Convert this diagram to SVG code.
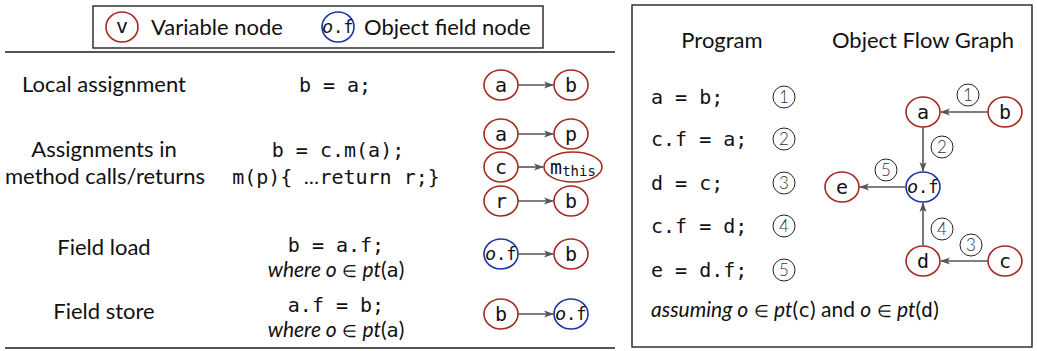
<svg xmlns="http://www.w3.org/2000/svg" width="1037" height="351" viewBox="0 0 1037 351">
<style>
.bg{fill:#fff}
.var{fill:#fff;stroke:#a52a1f;stroke-width:1.6}
.obj{fill:#fff;stroke:#1a35a8;stroke-width:1.6}
.sans{font-family:Lato,"Open Sans","Liberation Sans",sans-serif;font-size:22px;fill:#111}
.mono{font-family:"DejaVu Sans Mono","Liberation Mono",monospace;font-size:20px;fill:#111}
.nl{font-family:"DejaVu Sans Mono","Liberation Mono",monospace;font-size:20px;fill:#111;text-anchor:middle}
.of{font-size:17px}
.it{font-family:Lato,"Open Sans","Liberation Sans",sans-serif;font-style:italic}
.tt{font-family:"DejaVu Sans Mono","Liberation Mono",monospace;font-size:18px}
.mid{text-anchor:middle}
.edge{stroke:#555;stroke-width:1.6;fill:none;marker-end:url(#ah)}
.num{fill:#fff;stroke:#222;stroke-width:1}
.numt{font-family:Lato,"Open Sans","Liberation Sans",sans-serif;font-size:17px;font-weight:300;fill:#333;text-anchor:middle}
.frame{fill:none;stroke:#222;stroke-width:1.4}
.rule{stroke:#555;stroke-width:2}
</style>
<defs>
<marker id="ah" viewBox="0 0 10 8" refX="9" refY="4" markerWidth="10" markerHeight="8" markerUnits="userSpaceOnUse" orient="auto">
<path d="M0,0.5 L10,4 L0,7.5 L2.5,4 z" fill="#555"/>
</marker>
</defs>
<rect class="bg" x="0" y="0" width="1037" height="351"/>

<g id="legend">
<rect class="frame" x="93" y="6" width="450" height="42"/>
<ellipse class="var" cx="122" cy="27" rx="16" ry="15"/>
<text class="nl" x="122" y="33">v</text>
<text class="sans" x="151" y="35">Variable node</text>
<ellipse class="obj" cx="338" cy="27" rx="16" ry="15"/>
<text class="nl of" x="338" y="33"><tspan class="it" style="font-size:20px">o</tspan>.f</text>
<text class="sans" x="364" y="35">Object field node</text>
</g>
<line class="rule" x1="5" y1="52" x2="615" y2="52"/>
<line class="rule" x1="5" y1="348" x2="615" y2="348"/>

<g id="row-local">
<text class="sans mid" x="104" y="92">Local assignment</text>
<text class="mono mid" x="335" y="92" xml:space="preserve">b = a;</text>
</g>
<g id="row-calls">
<text class="sans mid" x="104" y="157">Assignments in</text>
<text class="sans mid" x="105" y="184">method calls/returns</text>
<text class="mono mid" x="338" y="157" xml:space="preserve">b = c.m(a);</text>
<text class="mono mid" x="336" y="184" xml:space="preserve">m(p){ <tspan class="it">…</tspan>return r;}</text>
</g>
<g id="row-load">
<text class="sans mid" x="104" y="255">Field load</text>
<text class="mono mid" x="336" y="252" xml:space="preserve">b = a.f;</text>
<text class="sans mid" x="336" y="277" style="font-size:21px"><tspan class="it">where o</tspan> <tspan style="font-size:17px">∈</tspan> <tspan class="it">pt</tspan>(<tspan class="tt" style="font-size:20px">a</tspan>)</text>
</g>
<g id="row-store">
<text class="sans mid" x="104" y="319">Field store</text>
<text class="mono mid" x="336" y="312" xml:space="preserve">a.f = b;</text>
<text class="sans mid" x="336" y="337" style="font-size:21px"><tspan class="it">where o</tspan> <tspan style="font-size:17px">∈</tspan> <tspan class="it">pt</tspan>(<tspan class="tt" style="font-size:20px">a</tspan>)</text>
</g>

<g id="n-l1a"><ellipse class="var" cx="501" cy="85" rx="17" ry="15"/><text class="nl" x="501" y="92">a</text></g>
<g id="n-l1b"><ellipse class="var" cx="571" cy="85" rx="17" ry="15"/><text class="nl" x="571" y="92">b</text></g>
<g id="n-l2a"><ellipse class="var" cx="501" cy="134" rx="17" ry="15"/><text class="nl" x="501" y="141">a</text></g>
<g id="n-l2p"><ellipse class="var" cx="571" cy="134" rx="17" ry="15"/><text class="nl" x="571" y="141">p</text></g>
<g id="n-l2c"><ellipse class="var" cx="501" cy="167" rx="17" ry="15"/><text class="nl" x="501" y="174">c</text></g>
<g id="n-l2m"><ellipse class="var" cx="573" cy="167" rx="29" ry="15"/><text class="nl" x="573" y="174">m<tspan style="font-size:14px" dy="2">this</tspan></text></g>
<g id="n-l2r"><ellipse class="var" cx="501" cy="201" rx="17" ry="15"/><text class="nl" x="501" y="208">r</text></g>
<g id="n-l2b"><ellipse class="var" cx="571" cy="201" rx="17" ry="15"/><text class="nl" x="571" y="208">b</text></g>
<g id="n-l3of"><ellipse class="obj" cx="501" cy="254" rx="17" ry="15"/><text class="nl of" x="501" y="260"><tspan class="it" style="font-size:20px">o</tspan>.f</text></g>
<g id="n-l3b"><ellipse class="var" cx="571" cy="254" rx="17" ry="15"/><text class="nl" x="571" y="261">b</text></g>
<g id="n-l4b"><ellipse class="var" cx="501" cy="314" rx="17" ry="15"/><text class="nl" x="501" y="321">b</text></g>
<g id="n-l4of"><ellipse class="obj" cx="571" cy="314" rx="17" ry="15"/><text class="nl of" x="571" y="320"><tspan class="it" style="font-size:20px">o</tspan>.f</text></g>

<g id="right-panel">
<rect class="frame" x="632" y="5" width="400" height="342"/>
<text class="sans mid" x="722" y="48">Program</text>
<text class="sans mid" x="923" y="48">Object Flow Graph</text>
<text class="mono" x="651" y="104" xml:space="preserve">a = b;</text>
<text class="mono" x="651" y="146" xml:space="preserve">c.f = a;</text>
<text class="mono" x="651" y="190" xml:space="preserve">d = c;</text>
<text class="mono" x="651" y="233" xml:space="preserve">c.f = d;</text>
<text class="mono" x="651" y="277" xml:space="preserve">e = d.f;</text>
<g id="lbl-p1"><circle class="num" cx="784" cy="97" r="11"/><text class="numt" x="784" y="103">1</text></g>
<g id="lbl-p2"><circle class="num" cx="784" cy="139" r="11"/><text class="numt" x="784" y="145">2</text></g>
<g id="lbl-p3"><circle class="num" cx="784" cy="183" r="11"/><text class="numt" x="784" y="189">3</text></g>
<g id="lbl-p4"><circle class="num" cx="784" cy="226" r="11"/><text class="numt" x="784" y="232">4</text></g>
<g id="lbl-p5"><circle class="num" cx="784" cy="270" r="11"/><text class="numt" x="784" y="276">5</text></g>
<text class="sans" x="651" y="317" style="font-size:21px"><tspan class="it">assuming o</tspan> <tspan style="font-size:17px">∈</tspan> <tspan class="it">pt</tspan>(<tspan class="tt" style="font-size:20px">c</tspan>) and <tspan class="it">o</tspan> <tspan style="font-size:17px">∈</tspan> <tspan class="it">pt</tspan>(<tspan class="tt" style="font-size:20px">d</tspan>)</text>
</g>

<g id="g-a"><ellipse class="var" cx="923" cy="112" rx="17" ry="15"/><text class="nl" x="923" y="119">a</text></g>
<g id="g-b"><ellipse class="var" cx="1005" cy="112" rx="17" ry="15"/><text class="nl" x="1005" y="119">b</text></g>
<g id="g-of"><ellipse class="obj" cx="923" cy="187" rx="17" ry="15"/><text class="nl of" x="923" y="193"><tspan class="it" style="font-size:20px">o</tspan>.f</text></g>
<g id="g-e"><ellipse class="var" cx="842" cy="187" rx="17" ry="15"/><text class="nl" x="842" y="194">e</text></g>
<g id="g-d"><ellipse class="var" cx="923" cy="261" rx="17" ry="15"/><text class="nl" x="923" y="268">d</text></g>
<g id="g-c"><ellipse class="var" cx="1005" cy="261" rx="17" ry="15"/><text class="nl" x="1005" y="268">c</text></g>

<g id="connectors">
<line class="edge" x1="518" y1="85" x2="553" y2="85"/>
<line class="edge" x1="518" y1="134" x2="553" y2="134"/>
<line class="edge" x1="518" y1="167" x2="543" y2="167"/>
<line class="edge" x1="518" y1="201" x2="553" y2="201"/>
<line class="edge" x1="518" y1="254" x2="553" y2="254"/>
<line class="edge" x1="518" y1="314" x2="553" y2="314"/>
<line class="edge" x1="988" y1="112" x2="941" y2="112"/>
<line class="edge" x1="923" y1="127" x2="923" y2="171"/>
<line class="edge" x1="906" y1="187" x2="860" y2="187"/>
<line class="edge" x1="923" y1="246" x2="923" y2="203"/>
<line class="edge" x1="988" y1="261" x2="941" y2="261"/>
</g>
<g id="edge-labels">
<g id="lbl-e1"><circle class="num" cx="968" cy="95" r="11"/><text class="numt" x="968" y="101">1</text></g>
<g id="lbl-e2"><circle class="num" cx="942" cy="147" r="11"/><text class="numt" x="942" y="153">2</text></g>
<g id="lbl-e5"><circle class="num" cx="886" cy="170" r="11"/><text class="numt" x="886" y="176">5</text></g>
<g id="lbl-e4"><circle class="num" cx="942" cy="229" r="11"/><text class="numt" x="942" y="235">4</text></g>
<g id="lbl-e3"><circle class="num" cx="971" cy="245" r="11"/><text class="numt" x="971" y="251">3</text></g>
</g>
</svg>
